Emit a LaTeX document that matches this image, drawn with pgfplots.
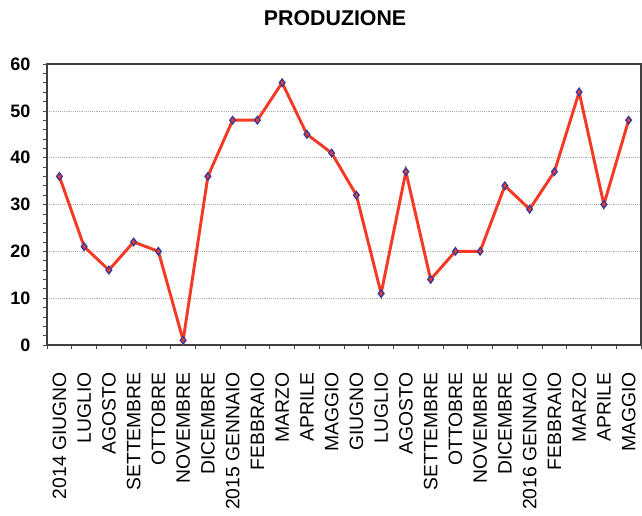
\documentclass[border=0pt]{standalone}
\usepackage{pgfplots}
\pgfplotsset{compat=1.18}
\usepackage{fontspec}
\setmainfont{Liberation Sans}
\definecolor{linered}{HTML}{F43A24}
\definecolor{markblue}{HTML}{3A3A9E}
\begin{document}
\begin{tikzpicture}
\begin{axis}[
  scale only axis,
  width=445.5pt, height=210.75pt,
  xmin=-0.5, xmax=23.5,
  ymin=0, ymax=60,
  ytick={0,10,...,60},
  minor y tick num=4,
  xtick={0,...,23},
  minor xtick={-0.5,0.5,...,23.5},
  xticklabels={2014 GIUGNO,LUGLIO,AGOSTO,SETTEMBRE,OTTOBRE,NOVEMBRE,DICEMBRE,2015 GENNAIO,FEBBRAIO,MARZO,APRILE,MAGGIO,GIUGNO,LUGLIO,AGOSTO,SETTEMBRE,OTTOBRE,NOVEMBRE,DICEMBRE,2016 GENNAIO,FEBBRAIO,MARZO,APRILE,MAGGIO},
  tick align=outside,
  tick pos=left,
  x tick style={draw=none},
  minor x tick style={draw=black!70, line width=0.5pt},
  y tick style={draw=black!70, line width=0.5pt},
  minor tick length=3pt,
  major tick length=3pt,
  axis line style={black!75, line width=0.9pt},
  ymajorgrids,
  major grid style={densely dotted, black!30, line width=0.5pt},
  /pgf/number format/assume math mode=true,
  yticklabel style={font=\fontsize{13.5}{14}\selectfont\bfseries, xshift=-6pt},
  xticklabel style={rotate=90, anchor=east, font=\fontsize{14.5}{15}\selectfont, xshift=-14pt},
  title={PRODUZIONE},
  title style={font=\fontsize{16}{17}\selectfont\bfseries, at={(0.485,1)}, anchor=center, yshift=28.5pt},
]
\addplot[color=linered, line width=2.2pt, mark=diamond*, mark size=2.8pt,
  mark options={fill=linered, draw=markblue, line width=1pt}]
  coordinates {
  (0,36) (1,21) (2,16) (3,22) (4,20) (5,1) (6,36) (7,48) (8,48) (9,56)
  (10,45) (11,41) (12,32) (13,11) (14,37) (15,14) (16,20) (17,20) (18,34)
  (19,29) (20,37) (21,54) (22,30) (23,48)
  };
\end{axis}
\pgfresetboundingbox
\path[use as bounding box] (-35.25pt,-127.5pt) rectangle (446.25pt,258.75pt);
\end{tikzpicture}
\end{document}
